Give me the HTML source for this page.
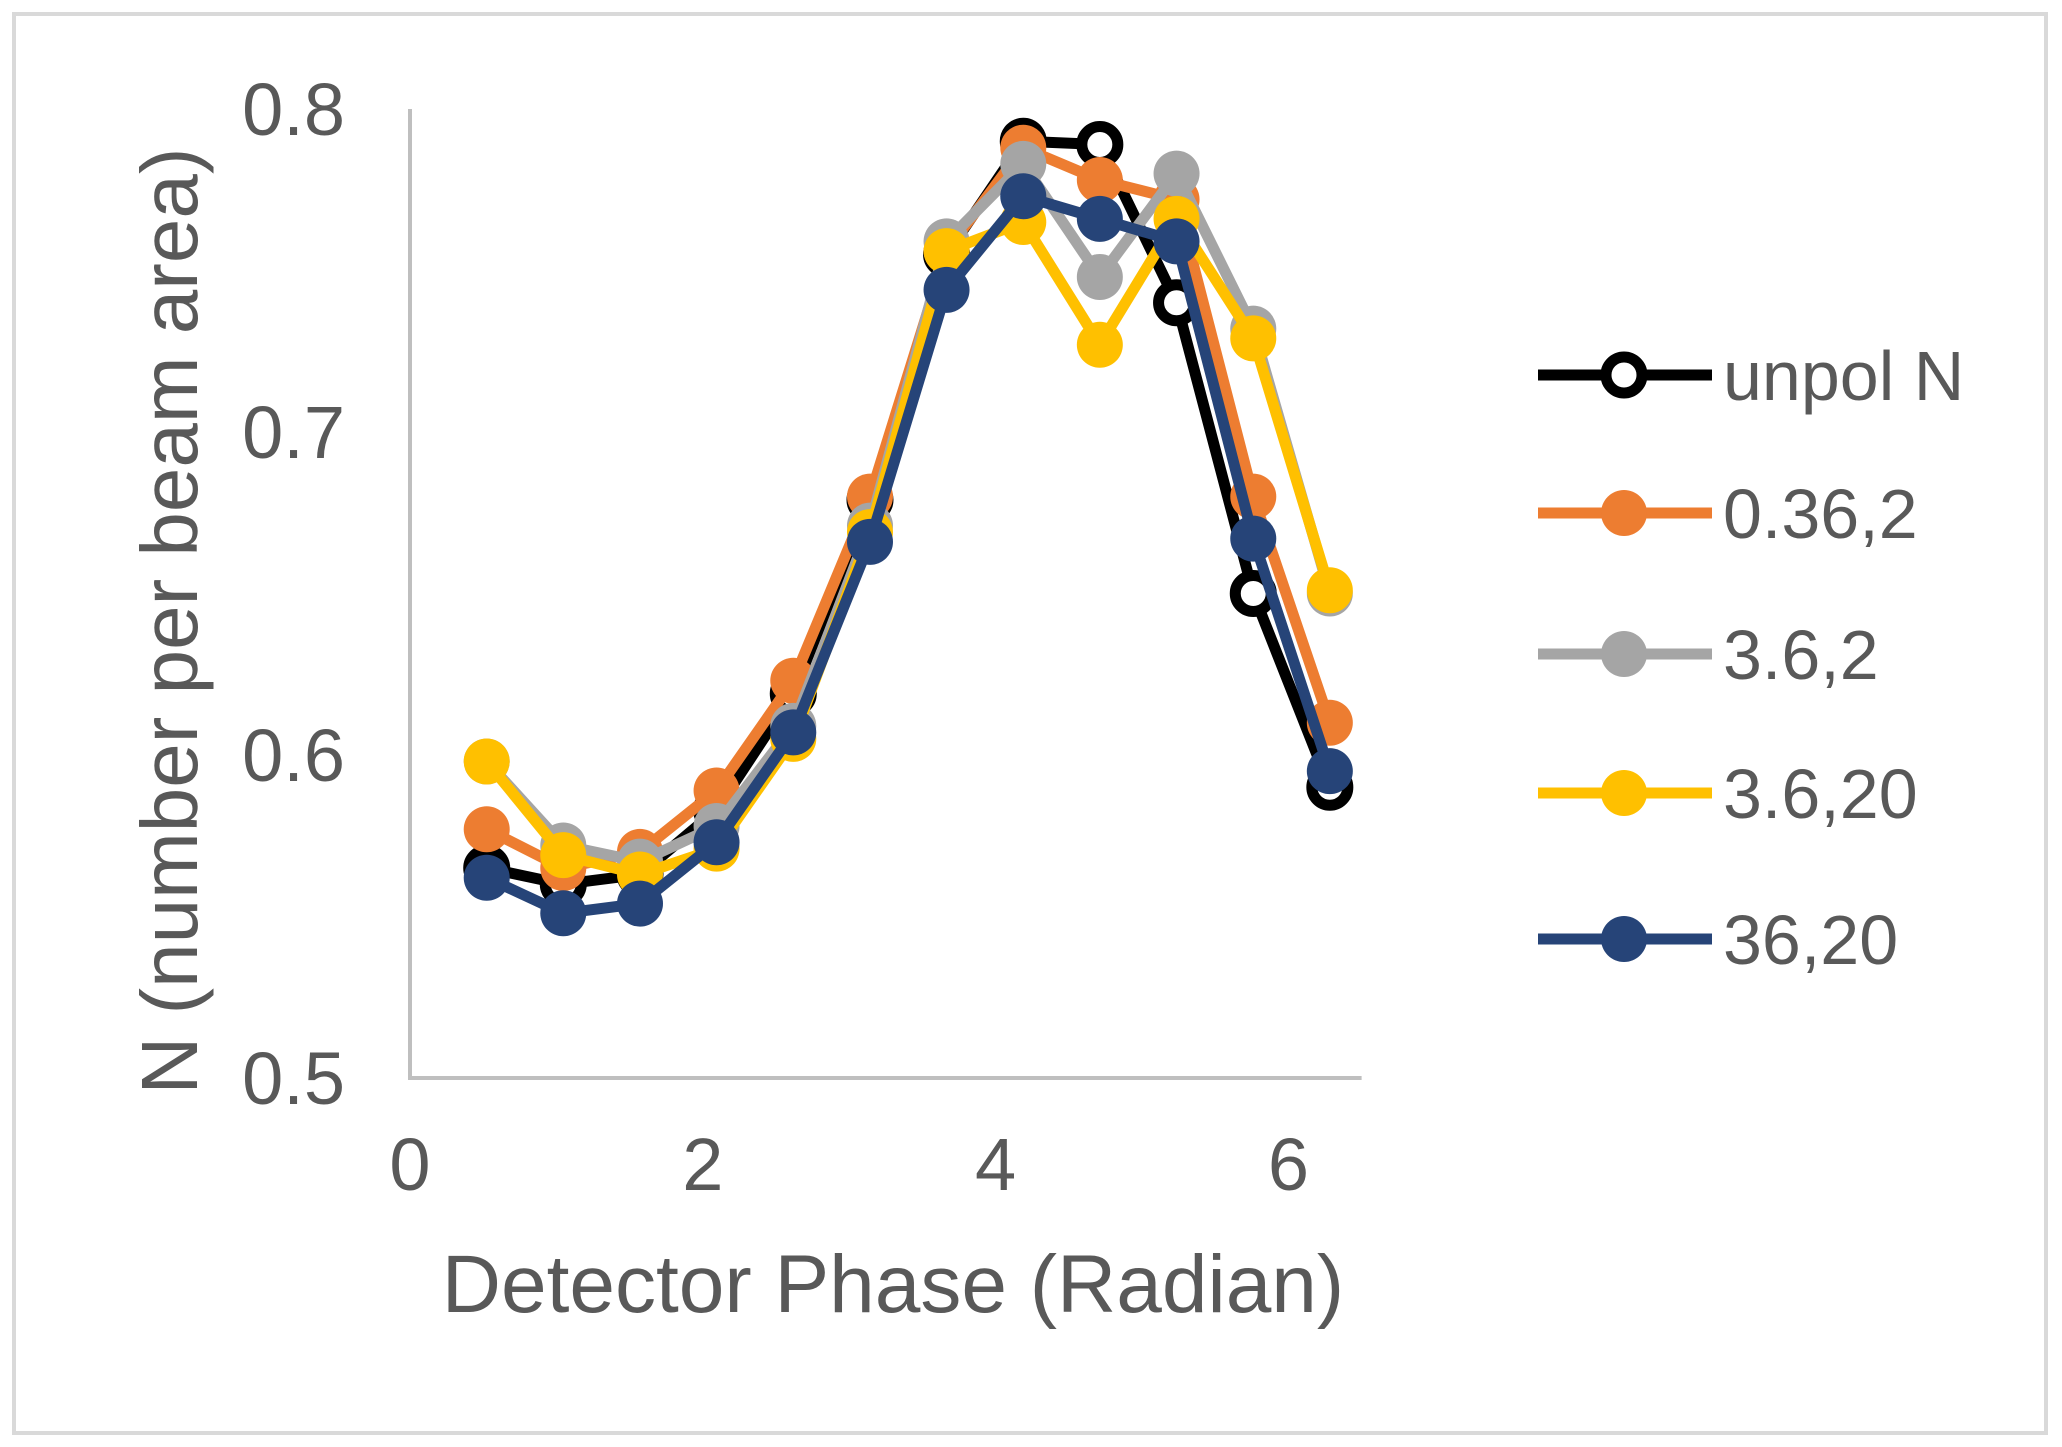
<!DOCTYPE html>
<html><head><meta charset="utf-8"><style>
html,body{margin:0;padding:0;background:#fff;}
svg{display:block;font-family:"Liberation Sans",Arial,sans-serif;}
</style></head><body>
<svg id="chart" width="2062" height="1447" viewBox="0 0 2062 1447" xmlns="http://www.w3.org/2000/svg">
<rect x="14" y="14" width="2032" height="1419" fill="#fff" stroke="#d9d9d9" stroke-width="4"/>
<g id="axes"></g>
<g id="series"></g>
<g id="legend"></g>
<text x="893" y="1312" font-size="82" fill="#595959" text-anchor="middle">Detector Phase (Radian)</text>
<text transform="translate(197,621) rotate(-90)" font-size="80" fill="#595959" text-anchor="middle">N (number per beam area)</text>
</svg>
<script>
const xValues=[0.524,1.047,1.571,2.094,2.618,3.142,3.665,4.189,4.712,5.236,5.760,6.283];
const seriesNames=["unpol N","0.36,2","3.6,2","3.6,20","36,20"];
const unpolN=[0.565,0.560,0.563,0.583,0.619,0.679,0.755,0.790,0.789,0.740,0.650,0.590];
const s036_2=[0.577,0.565,0.570,0.589,0.623,0.680,0.756,0.788,0.778,0.772,0.680,0.610];
const s36_2=[0.598,0.572,0.567,0.578,0.609,0.671,0.759,0.783,0.748,0.780,0.732,0.650];
const s36_20=[0.598,0.569,0.563,0.571,0.605,0.669,0.756,0.765,0.727,0.766,0.729,0.651];
const s36x20=[0.562,0.551,0.554,0.573,0.607,0.666,0.744,0.773,0.766,0.759,0.667,0.595];
const xTicks=[0,2,4,6];
const yTicks=[0.5,0.6,0.7,0.8];
const yTickLabels=["0.5","0.6","0.7","0.8"];

const NS="http://www.w3.org/2000/svg";
const X0=410,XU=146.4,Y0=1078,YU=3230;
const xs=v=>X0+v*XU, ys=v=>Y0-(v-0.5)*YU;
function mk(t,a,p){const e=document.createElementNS(NS,t);for(const k in a)e.setAttribute(k,a[k]);p.appendChild(e);return e;}
const axes=document.getElementById('axes');
let e=mk('line',{x1:X0,y1:ys(0.8),x2:X0,y2:Y0+2,stroke:'#bfbfbf','stroke-width':4},axes);


e=mk('line',{x1:X0-2,y1:Y0,x2:xs(6.5),y2:Y0,stroke:'#bfbfbf','stroke-width':4},axes);


yTicks.forEach((v,i)=>{const t=mk('text',{x:345,y:ys(v)+26,'font-size':74,fill:'#595959','text-anchor':'end'},axes);t.textContent=yTickLabels[i];

});
xTicks.forEach(v=>{const t=mk('text',{x:xs(v),y:1190,'font-size':74,fill:'#595959','text-anchor':'middle'},axes);t.textContent=String(v);

});
const data=[unpolN,s036_2,s36_2,s36_20,s36x20];
const colors=["#000000","#ed7d31","#a5a5a5","#ffc000","#264478"];
const sg=document.getElementById('series');
data.forEach((d,si)=>{
 const g=mk('g',{},sg);
 
 
 const pl=mk('polyline',{points:d.map((v,i)=>xs(xValues[i])+','+ys(v)).join(' '),fill:'none',stroke:colors[si],'stroke-width':11,'stroke-linejoin':'round'},g);
 
 
 d.forEach((v,i)=>{
  const c= si===0 ? mk('circle',{cx:xs(xValues[i]),cy:ys(v),r:18,fill:'#fff',stroke:'#000','stroke-width':11},g)
                  : mk('circle',{cx:xs(xValues[i]),cy:ys(v),r:23,fill:colors[si]},g);
  
  
 });
});
const lg=document.getElementById('legend');
const ly=[375,513,654,793,939];
seriesNames.forEach((n,si)=>{
 const g=mk('g',{},lg);
 
 
 mk('line',{x1:1538,y1:ly[si],x2:1712,y2:ly[si],stroke:colors[si],'stroke-width':11},g);
 if(si===0) mk('circle',{cx:1624,cy:ly[si],r:18,fill:'#fff',stroke:'#000','stroke-width':11},g);
 else mk('circle',{cx:1624,cy:ly[si],r:23,fill:colors[si]},g);
 const t=mk('text',{x:1723,y:ly[si]+25,'font-size':70,fill:'#595959'},g);t.textContent=n;
});
</script>
</body></html>
